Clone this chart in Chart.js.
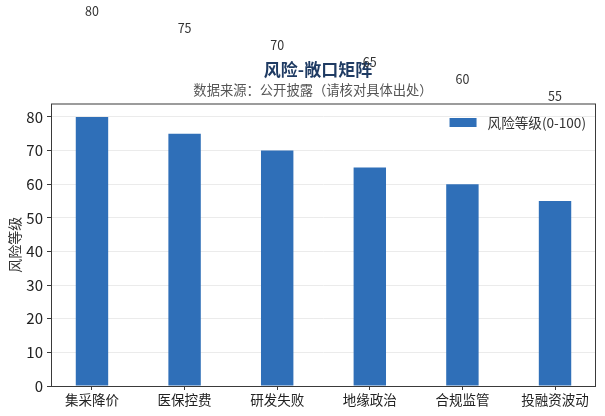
<!DOCTYPE html>
<html lang="zh-CN">
<head>
<meta charset="utf-8">
<title>风险-敞口矩阵</title>
<script src="https://cdn.jsdelivr.net/npm/chart.js@4/dist/chart.umd.min.js"></script>
<style>
  html, body { margin: 0; padding: 0; background: #fff; }
  #wrap { width: 605px; height: 416px; }
</style>
</head>
<body>
<div id="wrap"><canvas id="chart"></canvas></div>
<script>
// ===== 데이터 =====
const CATEGORIES = ["集采降价", "医保控费", "研发失败", "地缘政治", "合规监管", "投融资波动"];
const RISK_LEVEL = [80, 75, 70, 65, 60, 55];
const Y_TICKS = [0, 10, 20, 30, 40, 50, 60, 70, 80];
const SERIES_LABEL = "风险等级(0-100)";
const TITLE = "风险-敞口矩阵";
const SUBTITLE = "数据来源：公开披露（请核对具体出处）";

// ===== 스타일 상수 =====
const FONT = '"Noto Sans CJK SC", "Noto Sans", sans-serif';
const BAR_COLOR = "#2f6fb8";
const FRAME_COLOR = "#3a3a3a";
const BAR_WIDTH = 0.35;                       // 카테고리 단위 막대 폭
const X_MARGIN = 0.05 * (CATEGORIES.length - 1 + BAR_WIDTH);
const LABEL_SHIFT = 31.3;                     // 값 라벨이 막대 위로 떠 있는 정도(데이터 단위)

// 제목/부제 (원본은 플롯 중앙보다 살짝 왼쪽)
const heading = {
  id: "heading",
  beforeDraw(chart) {
    const { ctx } = chart;
    ctx.save();
    ctx.textAlign = "center";
    ctx.textBaseline = "middle";
    ctx.fillStyle = "#1f3b63";
    ctx.font = "bold 17px " + FONT;
    ctx.fillText(TITLE, 318, 70);
    ctx.fillStyle = "#555";
    ctx.font = "13.3px " + FONT;
    ctx.fillText(SUBTITLE, 313, 90);
    ctx.restore();
  },
};

// 프레임 + 값 라벨 + 범례
const decor = {
  id: "decor",
  afterDatasetsDraw(chart) {
    const { ctx, chartArea: a, scales } = chart;
    ctx.save();

    // 네 변 테두리
    ctx.strokeStyle = FRAME_COLOR;
    ctx.lineWidth = 1;
    ctx.strokeRect(a.left + 0.5, a.top + 0.5, a.right - a.left - 1, a.bottom - a.top);

    // 값 라벨 (원본처럼 위로 밀려 있음)
    ctx.fillStyle = "#333";
    ctx.font = "12.5px " + FONT;
    ctx.textAlign = "center";
    ctx.textBaseline = "middle";
    RISK_LEVEL.forEach((v, i) => {
      const x = scales.x.getPixelForValue(i);
      const y = scales.y.getPixelForValue(v + LABEL_SHIFT);
      ctx.fillText(String(v), x, y);
    });

    // 범례 (플롯 안 오른쪽 위)
    const ds = chart.data.datasets[0];
    ctx.font = "13.6px " + FONT;
    const tw = ctx.measureText(ds.label).width;
    const tx = a.right - 10 - tw;
    const ly = a.top + 19;
    ctx.fillStyle = ds.backgroundColor;
    ctx.fillRect(tx - 38, ly - 4.5, 27, 9);
    ctx.fillStyle = "#333";
    ctx.textAlign = "left";
    ctx.fillText(ds.label, tx, ly);

    ctx.restore();
  },
};

function render() {
  const ctx = document.getElementById("chart").getContext("2d");
  new Chart(ctx, {
    type: "bar",
    data: {
      datasets: [
        {
          label: SERIES_LABEL,
          data: RISK_LEVEL.map((v, i) => ({ x: i, y: v })),
          backgroundColor: BAR_COLOR,
          borderWidth: 0,
          categoryPercentage: 1,
          barPercentage: BAR_WIDTH,
        },
      ],
    },
    options: {
      responsive: true,
      maintainAspectRatio: false,
      animation: false,
      layout: { padding: { left: 0, right: 9, top: 103.5, bottom: 0 } },
      plugins: {
        legend: { display: false },
        tooltip: { enabled: false },
        title: { display: false },
      },
      scales: {
        x: {
          type: "linear",
          offset: false,
          min: -0.5 * BAR_WIDTH - X_MARGIN,
          max: CATEGORIES.length - 1 + 0.5 * BAR_WIDTH + X_MARGIN,
          afterBuildTicks: (s) => { s.ticks = CATEGORIES.map((_, i) => ({ value: i })); },
          afterFit: (s) => { s.height = 30; },
          border: { display: false },
          grid: { offset: false, drawOnChartArea: false, tickLength: 4, tickColor: FRAME_COLOR },
          ticks: {
            autoSkip: false,
            maxRotation: 0,
            includeBounds: false,
            padding: 2,
            color: "#222",
            font: { family: FONT, size: 13.5 },
            callback: (v) => CATEGORIES[v] ?? "",
          },
        },
        y: {
          min: 0,
          max: 84,
          afterBuildTicks: (s) => { s.ticks = Y_TICKS.map((v) => ({ value: v })); },
          afterFit: (s) => { s.width = 51; },
          border: { display: false },
          grid: { color: "#ebebeb", lineWidth: 1, tickLength: 4, tickColor: FRAME_COLOR },
          ticks: {
            includeBounds: false,
            padding: 4,
            color: "#222",
            font: { family: FONT, size: 15 },
          },
          title: {
            display: true,
            text: "风险等级",
            color: "#333",
            font: { family: FONT, size: 14 },
            padding: { top: 6, bottom: 0 },
          },
        },
      },
    },
    plugins: [heading, decor],
  });
}

if (document.readyState === "loading") document.addEventListener("DOMContentLoaded", render);
else render();
</script>
</body>
</html>
